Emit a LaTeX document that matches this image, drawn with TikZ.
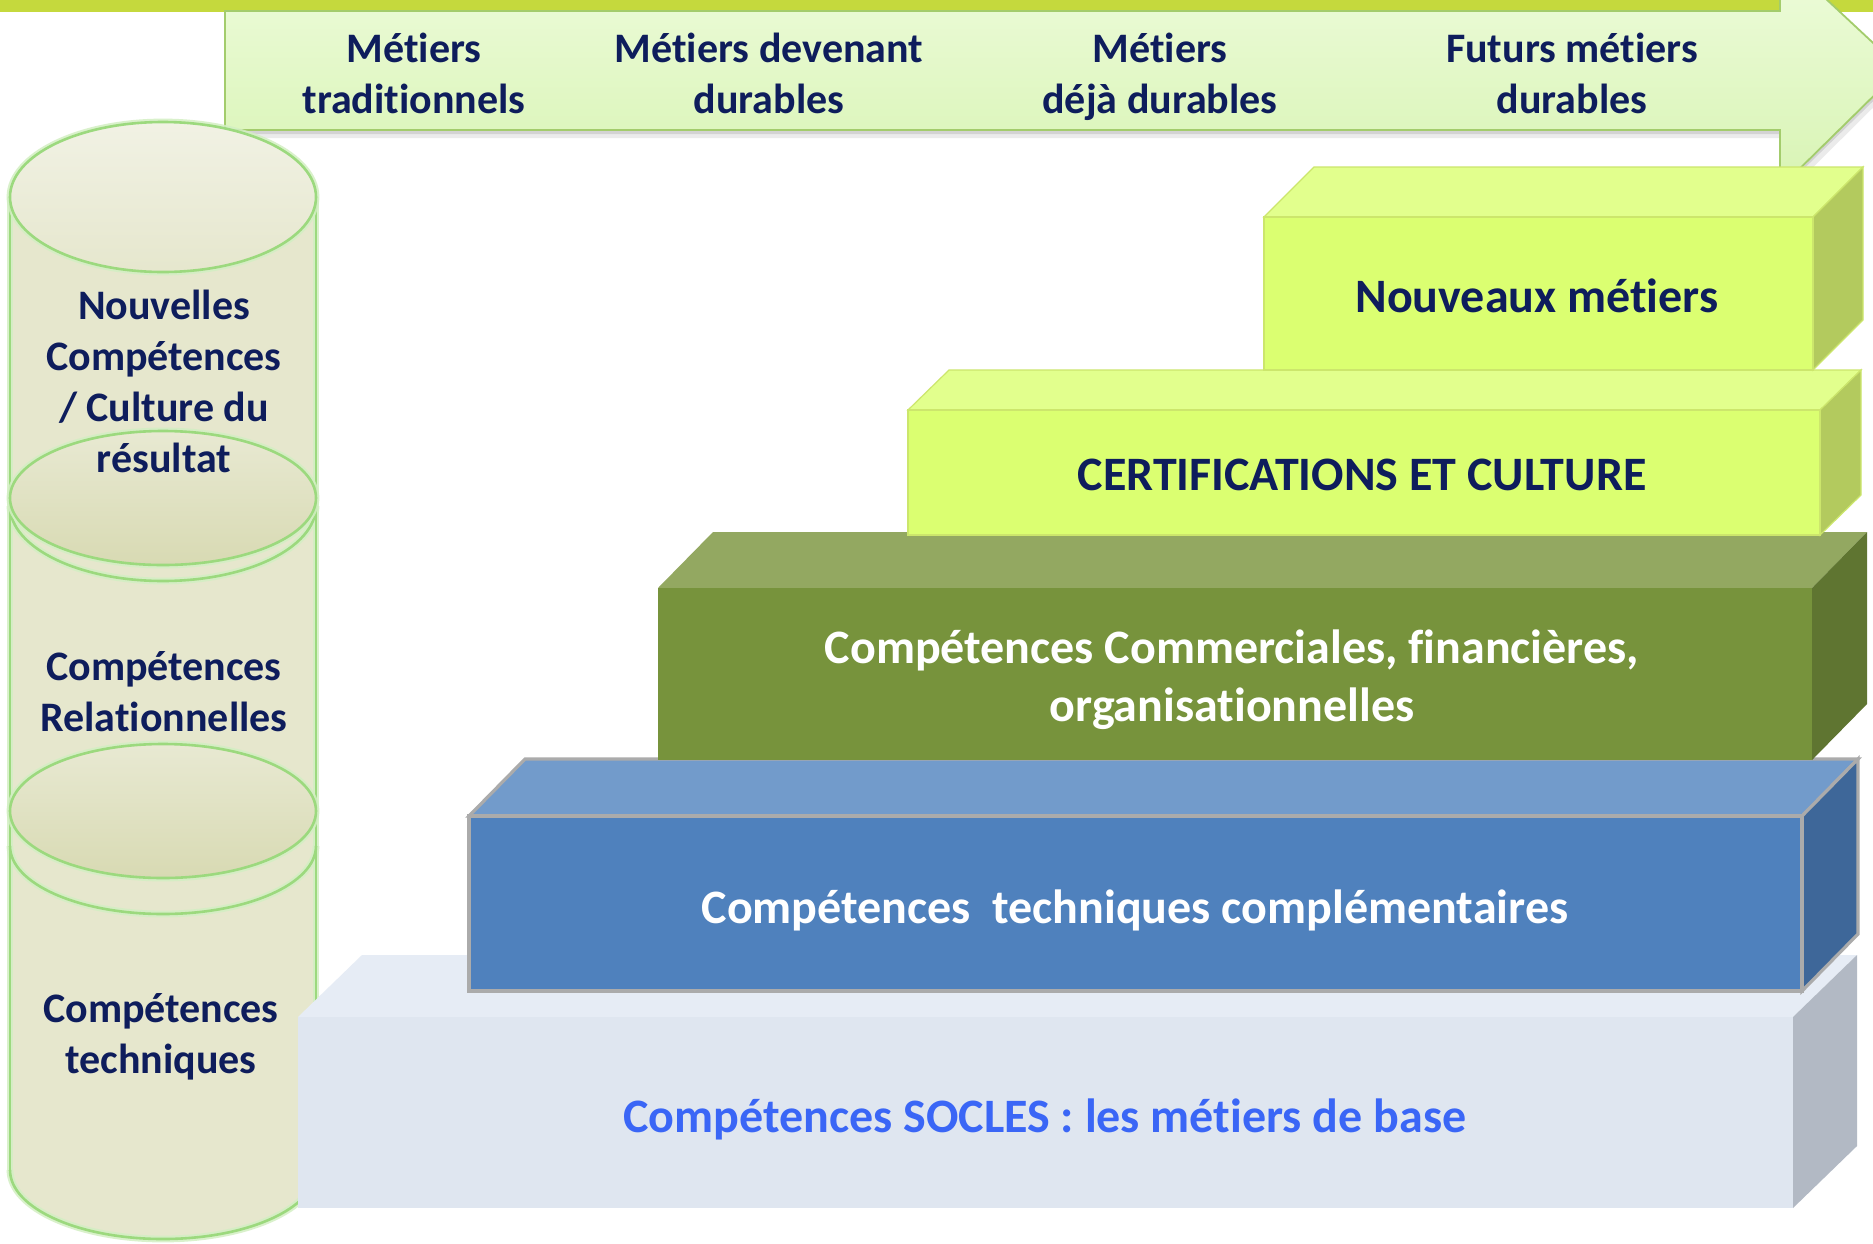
\documentclass[tikz,border=0pt]{standalone}
\usepackage{fontspec}
\setmainfont{Carlito}[Ligatures=NoCommon]
\definecolor{navy}{HTML}{0E1D5C}
\definecolor{band}{HTML}{C5D93D}
\definecolor{arrTop}{HTML}{EEFCDC}
\definecolor{arrBot}{HTML}{D8F4B4}
\definecolor{arrEdge}{HTML}{A3CC6C}
\definecolor{cylBody}{HTML}{E6E7CD}
\definecolor{cylEdge}{HTML}{9CD97E}
\definecolor{cylGlow}{HTML}{D3EFC3}
\definecolor{ellTop}{HTML}{E8E9D2}
\definecolor{ellBot}{HTML}{D8DAB3}
\definecolor{limeF}{HTML}{DBFF71}
\definecolor{limeT}{HTML}{E2FF8D}
\definecolor{limeS}{HTML}{B3CA5E}
\definecolor{limeE}{HTML}{CCE66C}
\definecolor{oliveF}{HTML}{77933C}
\definecolor{oliveT}{HTML}{93A861}
\definecolor{oliveS}{HTML}{5F7531}
\definecolor{blueF}{HTML}{4F81BD}
\definecolor{blueT}{HTML}{729BCB}
\definecolor{blueS}{HTML}{3E6799}
\definecolor{blueE}{HTML}{ABABAB}
\definecolor{paleF}{HTML}{DFE6F0}
\definecolor{paleT}{HTML}{E6ECF5}
\definecolor{paleS}{HTML}{B2B9C4}
\definecolor{socles}{HTML}{3A66F6}
\newcommand\stepblock[7]{%
  % #1 L, #2 T, #3 R, #4 B, #5 dx, #6 dy, #7 prefix of colours / style
  \fill[#7T,blockedge#7] (#1,#2) -- ({#1+#5},{#2-#6}) -- ({#3+#5},{#2-#6}) -- (#3,#2) -- cycle;
  \fill[#7S,blockedge#7] (#3,#2) -- ({#3+#5},{#2-#6}) -- ({#3+#5},{#4-#6}) -- (#3,#4) -- cycle;
  \fill[#7F,blockedge#7] (#1,#2) rectangle (#3,#4);
}
\begin{document}
\begin{tikzpicture}[x=0.5pt,y=-0.5pt,
  lbl/.style={text=navy,font=\bfseries\fontsize{21}{25.5}\selectfont,align=center,inner sep=0pt},
  blbl/.style={font=\bfseries\fontsize{24}{29}\selectfont,align=center,inner sep=0pt},
  cylglow/.style={draw=cylGlow,line width=3.4pt,draw opacity=0.85},
  cyledge/.style={draw=cylEdge,line width=1.3pt},
  blockedgelime/.style={draw=limeE,line width=0.6pt},
  blockedgeolive/.style={},
  blockedgeblue/.style={draw=blueE,line width=1.6pt},
  blockedgepale/.style={},
]
\useasboundingbox (0,0) rectangle (1873,1243);
\fill[white] (0,0) rectangle (1873,1243);
% top band
\fill[band] (0,0) rectangle (1873,12);
% arrow shadow
\fill[black,opacity=0.08] (228,17) -- (1784,17) -- (1784,-38) -- (1906,75) -- (1784,196) -- (1784,138) -- (228,138) -- cycle;
\fill[black,opacity=0.10] (226,14) -- (1781,14) -- (1781,-42) -- (1903,72) -- (1781,191) -- (1781,134) -- (226,134) -- cycle;
% arrow
\draw[arrEdge,line width=0.9pt,top color=arrTop,bottom color=arrBot]
  (225,11) -- (1780,11) -- (1780,-44) -- (1901,69) -- (1780,188) -- (1780,130) -- (225,130) -- cycle;
\node[lbl] (t1) at (414,78) {Métiers\strut\\traditionnels\strut};
\node[lbl] (t2) at (769,78) {Métiers devenant\strut\\durables\strut};
\node[lbl] (t3) at (1160,78) {Métiers\strut\\déjà durables\strut};
\node[lbl] (t4) at (1572,78) {Futurs métiers\strut\\durables\strut};
% cylinders body
\fill[cylBody] (10,197) -- (10,1170) arc[start angle=180,end angle=360,x radius=76.5pt,y radius=34.5pt]
  -- (316,197) arc[start angle=0,end angle=180,x radius=76.5pt,y radius=37.5pt] -- cycle;
% walls and front arcs
\foreach \s in {cylglow,cyledge}{
  \draw[\s] (10,197) -- (10,1170);
  \draw[\s] (316,197) -- (316,1170);
  \draw[\s] (10,506) arc[start angle=180,end angle=360,x radius=76.5pt,y radius=37.5pt];
  \draw[\s] (10,846) arc[start angle=180,end angle=360,x radius=76.5pt,y radius=34pt];
  \draw[\s] (10,1170) arc[start angle=180,end angle=360,x radius=76.5pt,y radius=34.5pt];
}
\foreach \cy in {498,811}{
  \draw[cylglow] (163,\cy) ellipse[x radius=76.5pt,y radius=33.5pt];
  \draw[cyledge,top color=ellTop,bottom color=ellBot] (163,\cy) ellipse[x radius=76.5pt,y radius=33.5pt];
}
\draw[cylglow] (163,197) ellipse[x radius=76.5pt,y radius=37.5pt];
\draw[cyledge,top color=ellTop!60!white,bottom color=ellTop!85!ellBot] (163,197) ellipse[x radius=76.5pt,y radius=37.5pt];
% blocks (bottom to top)
\stepblock{298}{1017}{1793}{1208}{64}{62}{pale}
\stepblock{469}{816}{1802}{991}{56}{57}{blue}
\stepblock{658}{588}{1812}{760}{55}{56}{olive}
\stepblock{908}{410}{1820}{535}{41}{40}{lime}
\stepblock{1264}{217}{1813}{370}{50}{50}{lime}
% block labels
\node[blbl,text=navy] (b1) at (1537,296) {Nouveaux métiers};
\node[blbl,text=navy] (b2) at (1362,475) {CERTIFICATIONS ET CULTURE};
\node[blbl,text=white] (b3) at (1232,681) {Compétences Commerciales, financières,\strut\\organisationnelles\strut};
\node[blbl,text=white] (b4) at (1135,910) {Compétences~~techniques complémentaires};
\node[blbl,text=socles] (b5) at (1045,1119) {Compétences SOCLES : les métiers de base};
% cylinder labels
\node[lbl] (c1) at (164,386) {Nouvelles\strut\\Compétences\strut\\/ Culture du\strut\\résultat\strut};
\node[lbl] (c2) at (164,696) {Compétences\strut\\Relationnelles\strut};
\node[lbl] (c3) at (161,1038) {Compétences\strut\\techniques\strut};
\end{tikzpicture}
\end{document}
